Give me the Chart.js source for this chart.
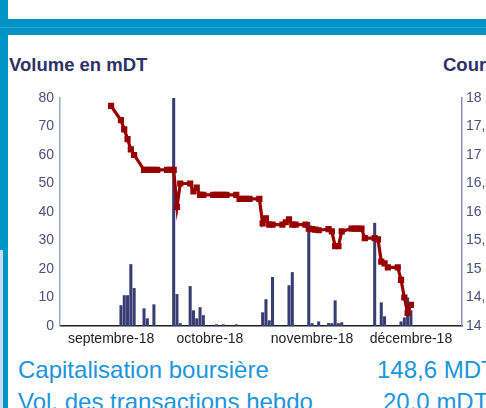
<!DOCTYPE html>
<html>
<head>
<meta charset="utf-8">
<script src="https://cdn.jsdelivr.net/npm/chart.js@4/dist/chart.umd.min.js"></script>
<style>
  html, body { margin: 0; padding: 0; background: #fff; }
  #page { position: relative; width: 486px; height: 408px; overflow: hidden; font-family: "Liberation Sans", Arial, sans-serif; }
  .deco { position: absolute; }
  .title { position: absolute; font-size: 18.5px; line-height: 18px; font-weight: bold; color: #2e3166; white-space: nowrap; }
  .info { position: absolute; font-size: 24px; line-height: 23px; color: #1b96dc; white-space: nowrap; }
  #chartBox { position: absolute; left: 0; top: 80px; width: 486px; height: 270px; }
</style>
</head>
<body>
<div id="page">
  <div class="deco" style="left:0;top:0;width:8px;height:408px;background:#0095c6;"></div>
  <div class="deco" style="left:0;top:250px;width:3px;height:158px;background:#c9dcee;"></div>
  <div class="deco" style="left:0;top:19px;width:486px;height:16px;background:#0093c3;"></div>
  <div class="deco" style="left:0;top:27px;width:486px;height:1px;background:#2aa6d2;"></div>

  <div class="title" style="left:9px;top:56px;">Volume en mDT</div>
  <div class="title" style="left:443px;top:56px;">Cours</div>

  <div id="chartBox"><canvas id="volCanvas"></canvas></div>

  <div class="info" style="left:18px;top:358px;">Capitalisation boursière</div>
  <div class="info" style="left:377px;top:358px;">148,6 MDT</div>
  <div class="info" style="left:18px;top:390px;">Vol. des transactions hebdo</div>
  <div class="info" style="left:383px;top:390px;">20,0 mDT</div>
</div>

<script>
// axis span (calendar days)
var startDay = '2018-08-17';
var endDay = '2018-12-16';

// month tick labels
var monthKeys = ['2018-09-01', '2018-10-01', '2018-11-01', '2018-12-01'];
var monthLabels = ['septembre-18', 'octobre-18', 'novembre-18', 'décembre-18'];

// seances
var seances = [
  '2018-09-01',
  '2018-09-04', '2018-09-05', '2018-09-06', '2018-09-07', '2018-09-08',
  '2018-09-11', '2018-09-12', '2018-09-13', '2018-09-14', '2018-09-15',
  '2018-09-18', '2018-09-19', '2018-09-20', '2018-09-21', '2018-09-22',
  '2018-09-25', '2018-09-26', '2018-09-27', '2018-09-28', '2018-09-29',
  '2018-10-02', '2018-10-03', '2018-10-04', '2018-10-05', '2018-10-06',
  '2018-10-09', '2018-10-10', '2018-10-11', '2018-10-12', '2018-10-13',
  '2018-10-16', '2018-10-17', '2018-10-18', '2018-10-19', '2018-10-20',
  '2018-10-23', '2018-10-24', '2018-10-25', '2018-10-26', '2018-10-27',
  '2018-10-30', '2018-10-31', '2018-11-01', '2018-11-02', '2018-11-03',
  '2018-11-06', '2018-11-07', '2018-11-08', '2018-11-09', '2018-11-10',
  '2018-11-13', '2018-11-14', '2018-11-15', '2018-11-16', '2018-11-17',
  '2018-11-20', '2018-11-21', '2018-11-22', '2018-11-23', '2018-11-24',
  '2018-11-27', '2018-11-28', '2018-11-29', '2018-11-30', '2018-12-01'
];

// volume en mDT (0 = pas de transaction)
var volume = [
  0,
  7.3, 10.8, 10.8, 21.7, 13.3,
  6.2, 2.7, 0, 7.6, 0,
  0, 0, 80, 11.2, 1.0,
  14.0, 5.5, 2.7, 6.6, 3.8,
  0, 0.6, 0, 0.6, 0,
  0.6, 0, 0, 0, 0,
  0, 4.8, 9.4, 2.0, 17.2,
  0, 0, 14.3, 18.9, 0,
  0, 36.5, 1.0, 0, 1.6,
  1.0, 1.0, 9.0, 1.0, 1.3,
  0, 0, 0, 0, 0,
  36.2, 0, 8.3, 3.4, 0,
  0, 1.6, 3.0, 10.0, 5.5
];

// cours en DT
var cours = [
  17.86,
  17.61, 17.45, 17.28, 17.10, 17.00,
  16.74, 16.74, 16.74, 16.74, 16.74,
  16.74, 16.74, 16.74, 16.09, 16.50,
  16.50, 16.36, 16.43, 16.30, 16.30,
  16.30, 16.30, 16.30, 16.30, 16.30,
  16.30, 16.23, 16.23, 16.23, 16.23,
  16.23, 15.80, 15.89, 15.78, 15.78,
  15.78, 15.82, 15.87, 15.78, 15.78,
  15.78, 15.71, 15.70, 15.69, 15.68,
  15.70, 15.66, 15.40, 15.40, 15.66,
  15.71, 15.71, 15.71, 15.71, 15.54,
  15.54, 15.52, 15.13, 15.10, 15.03,
  15.03, 14.81, 14.50, 14.23, 14.37
];

// build calendar categories and map the seances onto them
var days = [];
var d = new Date(startDay + 'T00:00:00Z');
var last = new Date(endDay + 'T00:00:00Z');
while (d <= last) {
  days.push(d.toISOString().slice(0, 10));
  d.setUTCDate(d.getUTCDate() + 1);
}
var volData = days.map(function () { return null; });
var coursData = days.map(function () { return null; });
seances.forEach(function (s, i) {
  var k = days.indexOf(s);
  if (k < 0) return;
  volData[k] = volume[i] > 0 ? volume[i] : null;
  coursData[k] = cours[i];
});

var FONT = '"Liberation Sans", Arial, sans-serif';
var red = '#960000';

new Chart(document.getElementById('volCanvas'), {
  data: {
    labels: days,
    datasets: [
      {
        type: 'line',
        label: 'Cours',
        data: coursData,
        yAxisID: 'y1',
        borderColor: red,
        backgroundColor: red,
        borderWidth: 3.2,
        pointStyle: 'rect',
        pointRadius: 4.4,
        pointBorderWidth: 0,
        pointBackgroundColor: red,
        spanGaps: true,
        tension: 0,
        order: 0
      },
      {
        type: 'bar',
        label: 'Volume',
        data: volData,
        yAxisID: 'y',
        backgroundColor: '#373c74',
        categoryPercentage: 1,
        barPercentage: 0.92,
        order: 1
      }
    ]
  },
  options: {
    responsive: true,
    maintainAspectRatio: false,
    animation: false,
    layout: { padding: { top: 18, left: 0, right: 0, bottom: 0 } },
    plugins: { legend: { display: false }, tooltip: { enabled: false } },
    scales: {
      x: {
        type: 'category',
        offset: true,
        grid: { display: false, drawTicks: false },
        border: { display: true, color: '#1e1e28', width: 1.5 },
        afterFit: function (scale) { scale.height = 24; },
        ticks: {
          autoSkip: false,
          maxRotation: 0,
          minRotation: 0,
          padding: 5,
          color: '#222222',
          font: { family: FONT, size: 14 },
          callback: function (val, i) {
            var k = monthKeys.indexOf(days[i]);
            return k >= 0 ? monthLabels[k] : null;
          }
        }
      },
      y: {
        position: 'left',
        min: 0,
        max: 80,
        grid: { display: false, drawTicks: false },
        border: { display: true, color: '#a3a5c6', width: 1.5 },
        afterFit: function (scale) { scale.width = 60; },
        ticks: {
          stepSize: 10,
          padding: 6,
          color: '#4b4f7c',
          font: { family: FONT, size: 14 }
        }
      },
      y1: {
        position: 'right',
        min: 14,
        max: 18,
        grid: { display: false, drawTicks: false },
        border: { display: true, color: '#8a8db4', width: 1.5 },
        afterFit: function (scale) { scale.width = 24; },
        ticks: {
          stepSize: 0.5,
          padding: 4,
          color: '#4b4f7c',
          font: { family: FONT, size: 14 },
          callback: function (v) { return String(v).replace('.', ','); }
        }
      }
    }
  }
});
</script>
</body>
</html>
